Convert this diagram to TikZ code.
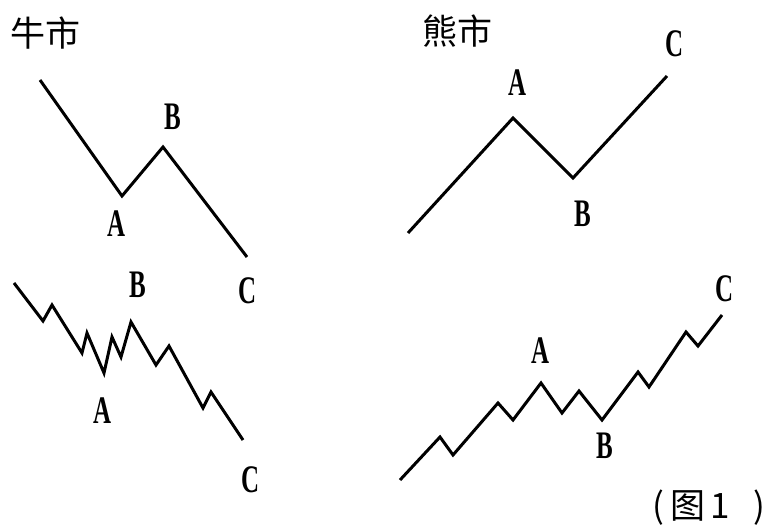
\documentclass[tikz,border=0pt]{standalone}
\usepackage{fontspec}
\setmainfont{Liberation Serif}
\newfontfamily\cjk{Noto Sans CJK SC}
\newcommand{\nar}[1]{\scalebox{0.64}[1]{\bfseries #1}}
\begin{document}
\begin{tikzpicture}[x=1pt,y=-1pt,
  wave/.style={line width=3pt,line join=miter,line cap=butt},
  lbl/.style={inner sep=0pt,font=\fontsize{39}{39}\selectfont},
  title/.style={inner sep=0pt,font=\cjk\fontsize{35}{35}\selectfont}]
\useasboundingbox[fill=white] (0,0) rectangle (773,526);
% titles
\node[title] (tbull) at (45,33) {牛市};
\node[title] (tbear) at (457,31) {熊市};
\node[inner sep=0pt,font=\cjk\fontsize{35}{35}\selectfont,anchor=west] (fig) at (649,508)
  {\makebox[18pt][c]{(}\makebox[42pt][c]{图}\makebox[22pt][c]{1}\makebox[34pt][r]{)}};
% top-left bull
\coordinate (s1) at (40,80);
\coordinate (a1) at (122,196);
\coordinate (b1) at (163,147);
\coordinate (c1) at (247,257);
\draw[wave] (s1) -- (a1) -- (b1) -- (c1);
\node[lbl] (la1) at (117,224) {\nar{A}};
\node[lbl] (lb1) at (173,117) {\nar{B}};
\node[lbl] (lc1) at (248,291) {\nar{C}};
% top-right bear
\coordinate (s2) at (408,233);
\coordinate (a2) at (513,118);
\coordinate (b2) at (573,178);
\coordinate (c2) at (667,76);
\draw[wave] (s2) -- (a2) -- (b2) -- (c2);
\node[lbl] (la2) at (518,83) {\nar{A}};
\node[lbl] (lb2) at (583,214) {\nar{B}};
\node[lbl] (lc2) at (675,44) {\nar{C}};
% bottom-left zigzag
\draw[wave] (14,283) -- (43,321) -- (52,305) -- (82,353) -- (87,333)
  -- (104,373) -- (112,337) -- (121,357) -- (131,322) -- (156,365)
  -- (169,346) -- (203,408) -- (211,392) -- (243,440);
\node[lbl] (la3) at (103,411) {\nar{A}};
\node[lbl] (lb3) at (138,285) {\nar{B}};
\node[lbl] (lc3) at (251,480) {\nar{C}};
% bottom-right zigzag
\draw[wave] (400,480) -- (440,437) -- (453,455) -- (498,403) -- (513,420)
  -- (541,383) -- (562,413) -- (579,391) -- (602,420) -- (638,372)
  -- (649,387) -- (686,332) -- (698,346) -- (722,315);
\node[lbl] (la4) at (541,351) {\nar{A}};
\node[lbl] (lb4) at (605,446) {\nar{B}};
\node[lbl] (lc4) at (725,289) {\nar{C}};
\end{tikzpicture}
\end{document}
